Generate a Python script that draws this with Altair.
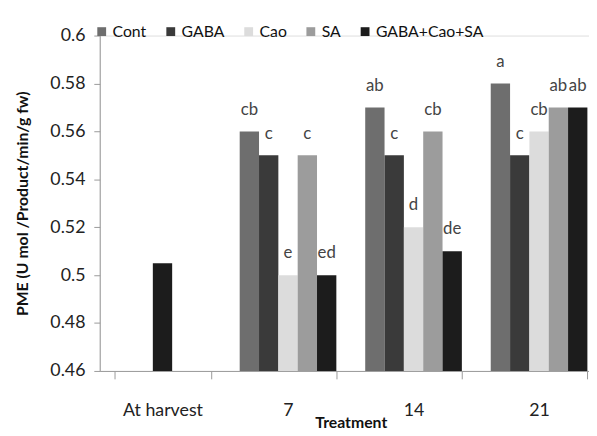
import altair as alt
import pandas as pd

categories = ["At harvest", "7", "14", "21"]
days = ["7", "14", "21"]
treatments = ["Cont", "GABA", "Cao", "SA", "GABA+Cao+SA"]
cont = [0.56, 0.57, 0.58]
gaba = [0.55, 0.55, 0.55]
cao = [0.50, 0.52, 0.56]
sa = [0.55, 0.56, 0.57]
mix = [0.50, 0.51, 0.57]
cont_l = ["cb", "ab", "a"]
gaba_l = ["c", "c", "c"]
cao_l = ["e", "d", "cb"]
sa_l = ["c", "cb", "ab"]
mix_l = ["ed", "de", "ab"]
harvest_value = [0.505]
colors = ["#6e6e6e", "#3a3a3a", "#dcdcdc", "#9c9c9c", "#1c1c1c"]
y_ticks = [0.46, 0.48, 0.5, 0.52, 0.54, 0.56, 0.58, 0.6]

series = [cont, gaba, cao, sa, mix]
letters = [cont_l, gaba_l, cao_l, sa_l, mix_l]
rows = []
for t, vals, labs in zip(treatments, series, letters):
    for d, v, l in zip(days, vals, labs):
        rows.append({"day": d, "treatment": t, "value": v, "letter": l})
df = pd.DataFrame(rows)
hdf = pd.DataFrame({"day": ["At harvest"], "value": harvest_value})

FONT = "Lato"

x_enc = alt.X(
    "day:N",
    scale=alt.Scale(domain=categories, range=[0, 509], paddingInner=0.23, paddingOuter=0.115),
    axis=alt.Axis(
        title="Treatment", labelAngle=0, tickBand="extent", tickSize=8,
        labelPadding=23, labelFontSize=18, labelColor="#222",
        titleFontWeight="bold", titleFontSize=16, titleColor="#111",
        titleBaseline="middle", titleY=52,
        domainColor="#999", tickColor="#999",
    ),
)
y_enc = alt.Y(
    "value:Q",
    scale=alt.Scale(domain=[0.46, 0.6], nice=False, zero=False),
    axis=alt.Axis(
        values=y_ticks, format=".2~f", tickSize=6, labelPadding=9,
        labelFontSize=18, labelColor="#222", grid=False,
        title="PME (U mol /Product/min/g fw)", titleFontWeight="bold",
        titleFontSize=16, titleColor="#111", titleBaseline="middle",
        titleX=-78, titleY=170, titleAngle=-90,
        domainColor="#999", tickColor="#999",
    ),
)

bars = alt.Chart(df).mark_bar().encode(
    x=x_enc,
    xOffset=alt.XOffset("treatment:N", scale=alt.Scale(domain=treatments, paddingInner=0, paddingOuter=0)),
    y=y_enc,
    y2=alt.datum(0.46),
    color=alt.Color(
        "treatment:N",
        scale=alt.Scale(domain=treatments, range=colors),
        legend=alt.Legend(
            title=None, orient="none", legendX=-6, legendY=-12,
            direction="horizontal", symbolType="square", symbolSize=80,
            symbolStrokeWidth=0, labelFontSize=16, labelColor="#111",
            columnPadding=16, labelFont=FONT, labelOffset=3,
        ),
    ),
)

labels = alt.Chart(df).mark_text(
    baseline="alphabetic", dy=-17, fontSize=17, color="#444", font=FONT
).encode(
    x=alt.X("day:N"),
    xOffset=alt.XOffset("treatment:N"),
    y=alt.Y("value:Q"),
    text="letter:N",
)

harvest = alt.Chart(hdf).mark_bar(
    width=alt.RelativeBandSize(0.2), color="#1c1c1c"
).encode(
    x=alt.X("day:N"),
    y=alt.Y("value:Q"),
    y2=alt.datum(0.46),
)

chart = alt.layer(bars, harvest, labels).properties(
    width=496, height=340,
    autosize=alt.AutoSizeParams(type="none"),
    padding={"left": 93, "top": 25, "right": 0, "bottom": 63},
).configure_view(stroke=None).configure(font=FONT)

chart.save("out.html", embed_options={"renderer": "svg", "actions": False})
